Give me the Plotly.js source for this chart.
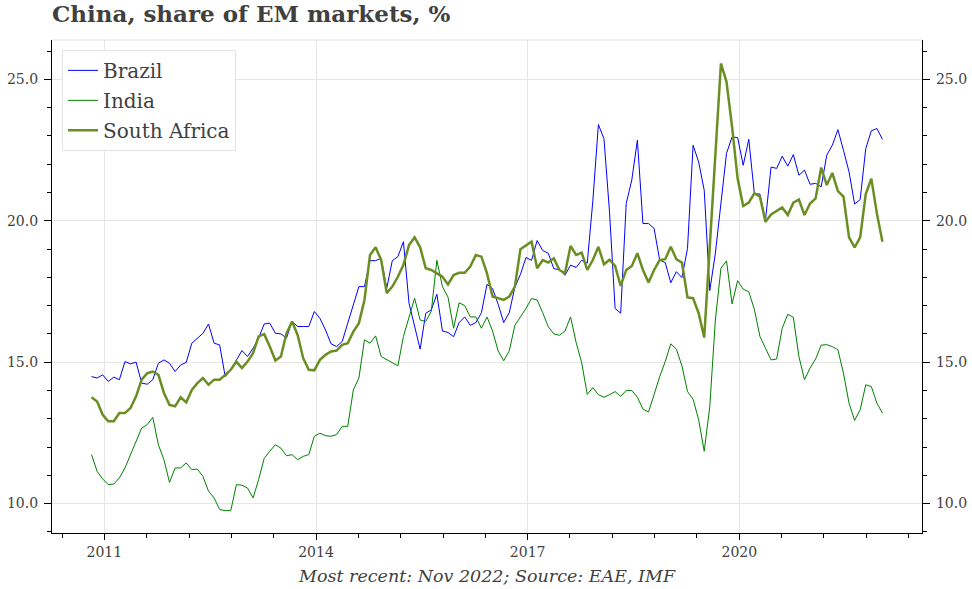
<!DOCTYPE html>
<html>
<head>
<meta charset="utf-8">
<script src="https://cdn.plot.ly/plotly-3.0.1.min.js"></script>
<style>html,body{margin:0;padding:0;background:#fff;}#chart{width:972px;height:589px;}</style>
</head>
<body>
<div id="chart"></div>
<script>
// Monthly observations, index 0 = Jan 2011 ... index 142 = Nov 2022
const brazil = [14.49,14.44,14.55,14.32,14.47,14.38,15.02,14.94,15.0,14.26,14.22,14.38,14.96,15.08,14.96,14.67,14.9,14.99,15.67,15.85,
16.02,16.35,15.67,15.61,14.49,14.73,15.08,15.41,15.2,15.49,15.85,16.35,16.38,16.02,16.0,15.85,16.44,16.26,16.26,16.26,
16.79,16.55,16.14,15.65,15.55,15.73,16.38,17.02,17.67,17.67,18.59,18.59,18.67,17.61,18.59,18.73,19.26,17.08,16.26,15.46,
16.73,16.85,17.4,16.1,16.05,15.9,16.4,16.6,16.3,16.4,16.75,17.75,17.6,17.05,16.4,16.75,17.65,18.1,18.7,18.6,
19.3,18.95,18.85,18.3,18.28,18.07,18.43,18.35,18.6,18.5,20.7,23.4,22.9,20.3,16.9,16.73,20.61,21.44,22.85,19.9,
19.9,19.73,18.61,18.52,17.81,18.2,17.99,19.02,22.67,22.08,21.08,17.53,18.85,20.73,22.38,22.96,22.94,21.96,22.88,20.96,
20.94,20.02,21.9,21.85,22.28,21.93,22.34,21.61,21.79,21.29,21.32,21.2,22.32,22.67,23.22,22.49,21.73,20.59,20.75,22.55,
23.18,23.26,22.88];
const india = [11.73,11.14,10.87,10.67,10.69,10.91,11.26,11.73,12.2,12.67,12.79,13.05,12.08,11.55,10.75,11.26,11.26,11.44,11.2,11.22,
10.96,10.44,10.2,9.79,9.75,9.75,10.67,10.65,10.55,10.2,10.85,11.6,11.85,12.08,11.96,11.69,11.73,11.55,11.67,11.73,
12.38,12.49,12.4,12.38,12.44,12.73,12.73,14.02,14.44,15.79,15.67,15.93,15.2,15.08,14.96,14.87,15.91,16.61,17.26,16.49,
16.44,16.8,18.6,17.67,17.3,16.2,17.1,17.0,16.6,16.6,16.2,16.6,16.1,15.4,15.05,15.4,16.3,16.6,16.9,17.25,
17.2,16.75,16.25,16.0,15.95,16.1,16.6,15.7,14.98,13.86,14.1,13.85,13.76,13.85,13.96,13.79,14.0,14.0,13.76,13.34,
13.24,13.85,14.49,15.02,15.65,15.46,14.87,13.96,13.69,12.96,11.85,13.44,16.49,18.32,18.58,17.06,17.88,17.58,17.49,16.87,
15.91,15.49,15.08,15.11,16.2,16.69,16.59,15.2,14.38,14.79,15.11,15.6,15.62,15.55,15.44,14.61,13.55,12.94,13.32,14.2,
14.14,13.55,13.2];
const southAfrica = [13.76,13.61,13.14,12.91,12.91,13.2,13.2,13.38,13.79,14.38,14.61,14.67,14.55,13.91,13.49,13.44,13.76,13.58,14.02,14.26,
14.44,14.2,14.38,14.38,14.55,14.73,15.02,14.79,15.02,15.32,15.91,15.99,15.55,15.06,15.2,16.02,16.44,15.96,15.14,14.73,
14.71,15.08,15.26,15.38,15.41,15.61,15.67,16.08,16.38,17.2,18.79,19.06,18.61,17.44,17.67,18.02,18.44,19.14,19.41,19.06,
18.32,18.26,18.14,18.02,17.75,18.08,18.16,18.16,18.38,18.79,18.73,18.14,17.32,17.26,17.2,17.32,17.67,18.99,19.14,19.26,
18.32,18.61,18.52,18.67,18.26,18.14,19.11,18.79,18.87,18.26,18.61,19.08,18.46,18.62,18.4,17.7,18.26,18.4,18.85,18.26,
17.82,18.26,18.61,18.64,19.08,18.64,18.52,17.29,17.26,16.73,15.87,19.1,22.3,25.56,24.91,23.32,21.49,20.52,20.64,20.97,
20.85,19.96,20.22,20.35,20.47,20.2,20.64,20.75,20.2,20.61,20.79,21.88,21.26,21.69,21.05,20.85,19.41,19.06,19.41,20.94,
21.49,20.26,19.26];
const yearLabels = ['2011', '2014', '2017', '2020'];
const yearTickPos = [2.3, 40.3, 78.3, 116.3];
const yTicks = [10, 15, 20, 25];
const yTickText = ['10.0', '15.0', '20.0', '25.0'];

const monthIndex = brazil.map((_, i) => i);
const xMinor = [];
for (let k = -1; k <= 19; k++) xMinor.push(2.3 + 7.6 * k);
const yMinor = [];
for (let v = 9; v <= 26; v++) yMinor.push(v);

const serif = 'DejaVu Serif, serif';
const txt = '#404040';

const traces = [
  {x: monthIndex, y: brazil, name: 'Brazil', type: 'scatter', mode: 'lines',
   line: {color: '#0000ff', width: 1}, legendgroup: 'a'},
  {x: monthIndex, y: india, name: 'India', type: 'scatter', mode: 'lines',
   line: {color: '#008000', width: 1}, legendgroup: 'b'},
  {x: monthIndex, y: southAfrica, name: 'South Africa', type: 'scatter', mode: 'lines',
   line: {color: '#6b8e23', width: 2.5}, legendgroup: 'c'},
  {x: [], y: [], yaxis: 'y2', showlegend: false, hoverinfo: 'skip'}
];

const yRange = [8.96, 26.39];
const axisCommon = {
  showline: true, linecolor: '#000', linewidth: 1.3,
  ticks: 'outside', ticklen: 7, tickcolor: '#000', tickwidth: 1,
  tickfont: {family: serif, size: 14, color: txt},
  zeroline: false
};

const layout = {
  width: 972, height: 589,
  margin: {l: 52, r: 50, t: 40, b: 56},
  paper_bgcolor: '#fff', plot_bgcolor: '#fff',
  title: {text: '<b>China, share of EM markets, %</b>', font: {family: serif, size: 23, color: txt},
          x: 0, xref: 'paper', xanchor: 'left', y: 0.99, yref: 'container', yanchor: 'top'},
  showlegend: true,
  legend: {x: 0.0115, y: 0.98, xanchor: 'left', yanchor: 'top',
           bgcolor: '#fff', bordercolor: '#e3e3e3', borderwidth: 1,
           font: {family: serif, size: 20, color: txt}, itemwidth: 30,
           traceorder: 'grouped', tracegroupgap: 1},
  xaxis: Object.assign({}, axisCommon, {
    range: [-7.1, 149.1], tickmode: 'array', tickvals: yearTickPos, ticktext: yearLabels,
    showgrid: true, gridcolor: '#e5e5e5', gridwidth: 1, ticklen: 6,
    minor: {tickmode: 'array', tickvals: xMinor, ticks: 'outside', ticklen: 4, tickcolor: '#000', showgrid: false}
  }),
  yaxis: Object.assign({}, axisCommon, {
    range: yRange, tickmode: 'array', tickvals: yTicks, ticktext: yTickText,
    showgrid: true, gridcolor: '#e5e5e5', gridwidth: 1, ticklabelstandoff: 3,
    minor: {tickmode: 'array', tickvals: yMinor, ticks: 'outside', ticklen: 4, tickcolor: '#000', showgrid: false}
  }),
  yaxis2: Object.assign({}, axisCommon, {
    range: yRange, overlaying: 'y', side: 'right', tickmode: 'array', tickvals: yTicks, ticktext: yTickText,
    showgrid: false, ticklabelstandoff: 3,
    minor: {tickmode: 'array', tickvals: yMinor, ticks: 'outside', ticklen: 4, tickcolor: '#000', showgrid: false}
  }),
  shapes: [{type: 'line', xref: 'paper', yref: 'paper', x0: 0, x1: 1, y0: 1, y1: 1,
            line: {color: '#e0e0e0', width: 1}}],
  annotations: [{text: '<i>Most recent: Nov 2022; Source: EAE, IMF</i>', xref: 'paper', yref: 'paper',
                 x: 0.5, y: -0.087, xanchor: 'center', yanchor: 'middle', showarrow: false,
                 font: {family: serif, size: 17.5, color: txt}}]
};

Plotly.newPlot('chart', traces, layout, {displayModeBar: false, responsive: false});
</script>
</body>
</html>
